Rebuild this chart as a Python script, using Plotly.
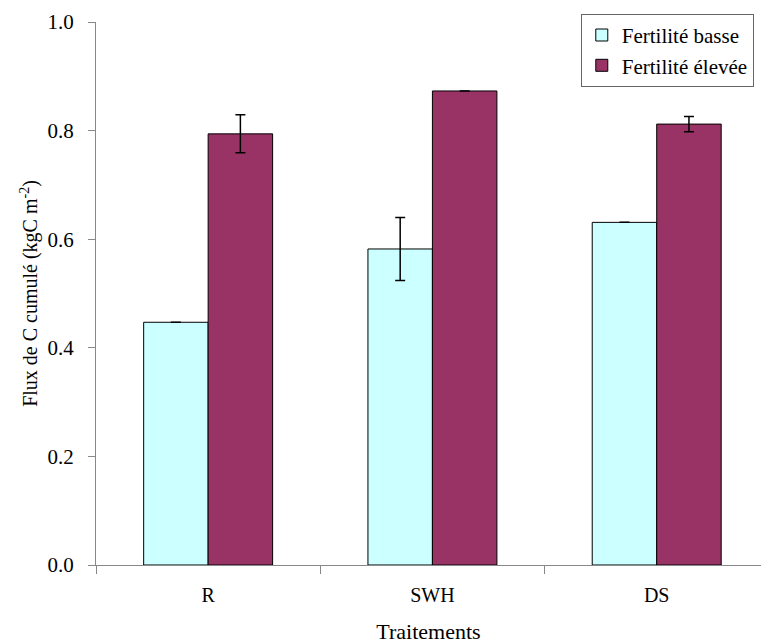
import plotly.graph_objects as go

categories = ["R", "SWH", "DS"]
low_vals = [0.447, 0.582, 0.631]
high_vals = [0.794, 0.873, 0.812]
low_err = [0, 0.058, 0]
high_err = [0.035, 0, 0.014]
series_names = ["Fertilité basse", "Fertilité élevée"]
y_ticks = [0.0, 0.2, 0.4, 0.6, 0.8, 1.0]

FONT = "Liberation Serif"

fig = go.Figure()
fig.add_trace(go.Bar(
    x=categories, y=low_vals, name=series_names[0],
    marker=dict(color="#CCFFFF", line=dict(color="black", width=1)),
    error_y=dict(type="data", array=low_err, visible=True, color="black", thickness=1.5, width=5),
))
fig.add_trace(go.Bar(
    x=categories, y=high_vals, name=series_names[1],
    marker=dict(color="#993366", line=dict(color="black", width=1)),
    error_y=dict(type="data", array=high_err, visible=True, color="black", thickness=1.5, width=5),
))

fig.update_layout(
    width=761, height=644,
    margin=dict(l=96, r=0, t=22, b=79),
    paper_bgcolor="white", plot_bgcolor="white",
    barmode="group", bargap=0.425, bargroupgap=0,
    font=dict(family=FONT, size=20, color="black"),
    showlegend=True,
    legend=dict(
        x=0.729, y=1.015, xanchor="left", yanchor="top",
        bordercolor="#666666", borderwidth=1, bgcolor="white",
        font=dict(family=FONT, size=21),
        tracegroupgap=2, itemwidth=30,
    ),
    xaxis=dict(
        type="category", range=[-0.5, 2.465],
        tickson="boundaries", ticks="outside", ticklen=8, tickcolor="#888888",
        showline=True, linecolor="#888888", linewidth=1,
        showgrid=False, zeroline=False,
        tickfont=dict(family=FONT, size=20),
        ticklabelstandoff=12,
        title=dict(text="Traitements", font=dict(family=FONT, size=22), standoff=18),
    ),
    yaxis=dict(
        range=[0, 1.0], tickvals=y_ticks, tickformat=".1f",
        ticks="outside", ticklen=7, tickcolor="#888888",
        showline=True, linecolor="#888888", linewidth=1,
        showgrid=False, zeroline=False,
        tickfont=dict(family=FONT, size=21),
        ticklabelstandoff=10,
        title=dict(text="Flux de C cumulé (kgC m<sup>-2</sup>)", font=dict(family=FONT, size=20), standoff=4),
    ),
)

fig.write_html("out.html")
